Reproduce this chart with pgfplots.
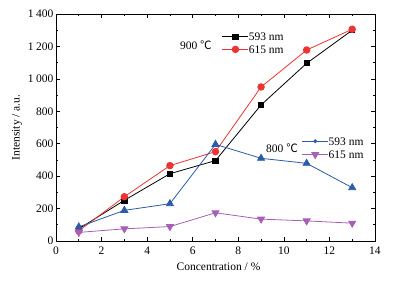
\documentclass[border=0pt]{standalone}
\usepackage{pgfplots}
\pgfplotsset{compat=1.18}
\usepackage{fontspec}
\setmainfont{Liberation Serif}
\newfontfamily\cjk{Noto Sans CJK SC}
\definecolor{cred}{HTML}{EE3333}
\definecolor{cblue}{HTML}{2B5BAA}
\definecolor{cpurp}{HTML}{A65FB5}
\begin{document}
\begin{tikzpicture}
\path[use as bounding box] (-56pt,-44pt) rectangle (344pt,241pt);
\pgfplotsset{
  common/.style={
    at={(0pt,0pt)}, anchor=south west,
    scale only axis, width=319pt, height=227pt,
    xmin=0, xmax=14, ymin=0, ymax=1400,
    legend cell align=left,
    legend image code/.code={
      \draw[mark repeat=2,mark phase=2] plot coordinates {(0pt,0pt) (13pt,0pt) (26pt,0pt)};
    },
  }
}
\begin{axis}[common,
  axis line style={line width=0.9pt},
  tick style={black, line width=0.6pt},
  major tick length=4pt, minor tick length=2pt,
  tick align=inside,
  xtick={0,2,...,14}, minor xtick={1,3,...,13},
  ytick={0,200,...,1400}, minor ytick={100,300,...,1300},
  /pgf/number format/assume math mode=true,
  /pgf/number format/1000 sep={\hspace{0.22em}},
  ticklabel style={font=\fontsize{11.5}{13}\selectfont},
  yticklabel style={xshift=1pt},
  xticklabel style={yshift=-2.5pt},
  xlabel={Concentration / \%},
  ylabel={Intensity / a.u.},
  label style={font=\fontsize{11.5}{13}\selectfont},
  xlabel style={yshift=-1pt, xshift=3pt},
  ylabel style={yshift=-1pt},
  legend style={at={(0.52,0.918)}, anchor=north west, draw=none, fill=none,
    inner sep=0pt, row sep=4.6pt, font=\fontsize{11.5}{13}\selectfont,
    nodes={inner sep=0pt, text height=8pt, text depth=0pt}},
  legend style={/tikz/every even column/.append style={column sep=3pt}},
]
\addplot[black, line width=0.8pt, mark=square*, mark size=2.6pt] coordinates {
(1,75) (3,251) (5,415) (7,496) (9,839) (11,1096) (13,1300)};
\addlegendentry{593 nm}
\addplot[cred, line width=0.8pt, mark=*, mark size=3.3pt] coordinates {
(1,62) (3,273) (5,465) (7,551) (9,950) (11,1178) (13,1306)};
\addlegendentry{615 nm}
\node[font=\fontsize{11.5}{13}\selectfont] at (axis cs:6.14,1205) {900 {\cjk ℃}};
\node[font=\fontsize{11.5}{13}\selectfont] at (axis cs:9.92,572) {800 {\cjk ℃}};
\end{axis}
\begin{axis}[common, axis lines=none,
  legend style={at={(0.770,0.458)}, anchor=north west, draw=none, fill=none,
    inner sep=0pt, row sep=5.3pt, font=\fontsize{11.5}{13}\selectfont,
    nodes={inner sep=0pt, text height=8pt, text depth=0pt}},
  legend style={/tikz/every even column/.append style={column sep=2pt}},
]
\addlegendimage{cblue, line width=0.8pt, mark=*, mark size=1.5pt}
\addlegendentry{593 nm}
\addplot[cblue, line width=0.8pt, mark=triangle*, mark size=4pt, forget plot] coordinates {
(1,87) (3,189) (5,230) (7,596) (9,510) (11,479) (13,329)};
\addplot[cpurp, line width=0.8pt, mark=triangle*, mark options={rotate=180}, mark size=4pt] coordinates {
(1,53) (3,75) (5,89) (7,174) (9,135) (11,124) (13,110)};
\addlegendentry{615 nm}
\end{axis}
\end{tikzpicture}
\end{document}
